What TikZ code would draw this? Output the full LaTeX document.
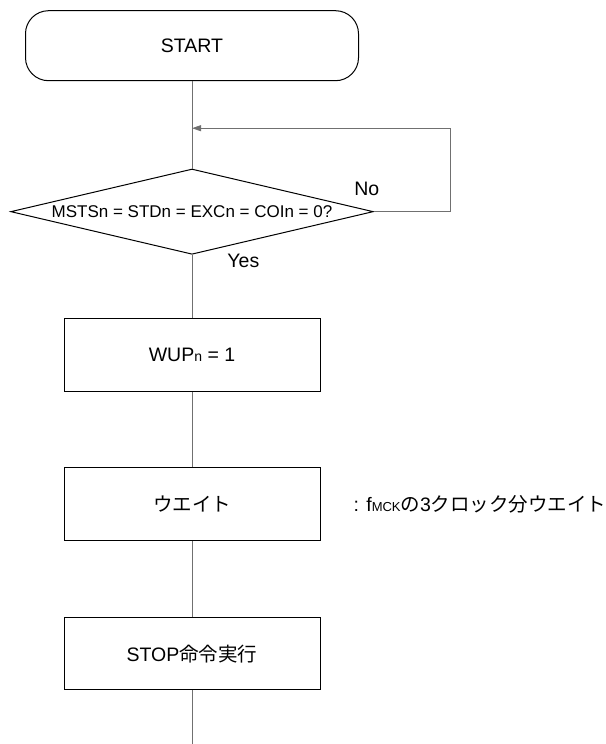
\documentclass[tikz,border=0pt]{standalone}
\usepackage{fontspec}
\setmainfont{Liberation Sans}
\newfontfamily\jpfont{Noto Sans CJK JP}
\usetikzlibrary{arrows.meta,positioning,shapes.geometric}
\definecolor{linegray}{RGB}{112,112,112}
\tikzset{
  terminal/.style={draw=black,line width=1pt,rounded corners=23pt,minimum width=333pt,minimum height=70pt,font=\fontsize{19.5}{23}\selectfont},
  decision/.style={diamond,draw=black,line width=1pt,aspect=4.25,inner sep=0pt,minimum width=362.6pt,minimum height=85.3pt,font=\fontsize{17}{20}\selectfont},
  process/.style={draw=black,line width=1pt,minimum width=256pt,minimum height=72.6pt,font=\fontsize{19.5}{23}\selectfont},
  lbl/.style={font=\fontsize{19.5}{23}\selectfont,inner sep=0pt},
  note/.style={lbl,anchor=west},
  link/.style={draw=linegray,line width=0.8pt},
  back/.style={link,-{Triangle[length=9pt,width=6pt]}}
}

\begin{document}
\begin{tikzpicture}
  \useasboundingbox (0,0) rectangle (605pt,-744pt);
  \node[terminal] (start) at (192pt,-45.7pt) {START};
  \coordinate[below=47pt of start] (merge);
  \node[decision,below=87.3pt of start] (cond) {MSTSn = STDn = EXCn = COIn = 0?};
  \node[process,below=63.4pt of cond] (wup) {WUP{\fontsize{14}{14}\selectfont n} = 1};
  \node[process,below=75.4pt of wup] (wait) {\jpfont ウエイト};
  \node[process,below=76pt of wait] (stop) {STOP{\jpfont 命令実行}};
  \coordinate[below=57.7pt of stop] (tail);
  \node[note,right=33pt of wait] (waitnote) {: f{\fontsize{13}{13}\selectfont MCK}{\jpfont の}3{\jpfont クロック分ウエイト}};
  \node[lbl] (no) at ([xshift=-7pt,yshift=22.4pt]cond.east) {No};
  \node[lbl] (yes) at ([xshift=51.4pt,yshift=-5.7pt]cond.south) {Yes};
  \draw[link] (start) -- (cond);
  \draw[back] (cond.east) -- ++(76.4pt,0) |- (merge);
  \draw[link] (cond) -- (wup);
  \draw[link] (wup) -- (wait);
  \draw[link] (wait) -- (stop);
  \draw[link] (stop) -- (tail);
\end{tikzpicture}
\end{document}
